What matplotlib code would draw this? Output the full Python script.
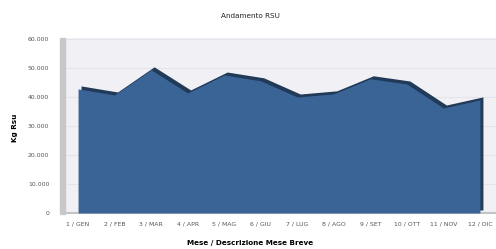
import matplotlib
matplotlib.use('Agg')
import matplotlib.pyplot as plt
import matplotlib.transforms as mtransforms
from matplotlib.patches import Rectangle
from matplotlib.ticker import FuncFormatter

# data
mesi = ['1 / GEN', '2 / FEB', '3 / MAR', '4 / APR', '5 / MAG', '6 / GIU',
        '7 / LUG', '8 / AGO', '9 / SET', '10 / OTT', '11 / NOV', '12 / DIC']
kg_rsu = [42900, 40800, 49500, 41500, 47700, 45700,
          40100, 41200, 46400, 44600, 36300, 39100]
y_ticks = [0, 10000, 20000, 30000, 40000, 50000, 60000]

W, H = 496, 249
fig = plt.figure(figsize=(W / 100, H / 100), dpi=100)
fig.patch.set_facecolor('white')

# plot area in pixels: left wall at 66, zero line at 213, top at 38
ax = fig.add_axes([66 / W, 1 - 213 / H, 430 / W, (213 - 38) / H])
ax.set_facecolor('#f1f1f5')

x = list(range(len(mesi)))
ax.set_xlim(-0.33, 11.44)
ax.set_ylim(0, 60500)

# depth of the fake 3D effect
depth = mtransforms.ScaledTranslation(3 / 100, 3 / 100, fig.dpi_scale_trans)
ax.fill_between(x, 0, kg_rsu, color='#213a58', lw=0,
                transform=ax.transData + depth, zorder=2)
ax.fill_between(x, 0, kg_rsu, color='#3a6496', lw=0, zorder=3)

ax.set_yticks(y_ticks)
ax.yaxis.set_major_formatter(FuncFormatter(lambda v, p: f'{int(v):,}'.replace(',', '.')))
ax.grid(axis='y', color='#e4e4ea', lw=0.8, zorder=0)
ax.set_axisbelow(True)

ax.set_xticks(x)
ax.set_xticklabels(mesi)
ax.tick_params(axis='both', length=0, labelsize=4.4, colors='#555555')
ax.tick_params(axis='y', pad=12)
ax.tick_params(axis='x', pad=6)

for s in ['top', 'right', 'left']:
    ax.spines[s].set_visible(False)
ax.spines['bottom'].set_color('#c4c4c4')
ax.spines['bottom'].set_linewidth(1.5)

# left wall
fig.patches.append(Rectangle((60 / W, 1 - 214 / H), 5 / W, (214 - 38) / H,
                             transform=fig.transFigure, color='#c8c8c8', zorder=1))

fig.text(250 / W, 1 - 16 / H, 'Andamento RSU', ha='center', va='center',
         fontsize=5.2, color='#222222')
ax.set_ylabel('Kg Rsu', fontsize=5.2, fontweight='bold', labelpad=10)
ax.set_xlabel('Mese / Descrizione Mese Breve', fontsize=5.2, fontweight='bold', labelpad=8)
ax.xaxis.set_label_coords((250 - 66) / 430, -(240 - 213) / (213 - 38))
ax.yaxis.set_label_coords(-(66 - 18) / 430, (213 - 128) / (213 - 38))

fig.savefig('out.png', dpi=100)
